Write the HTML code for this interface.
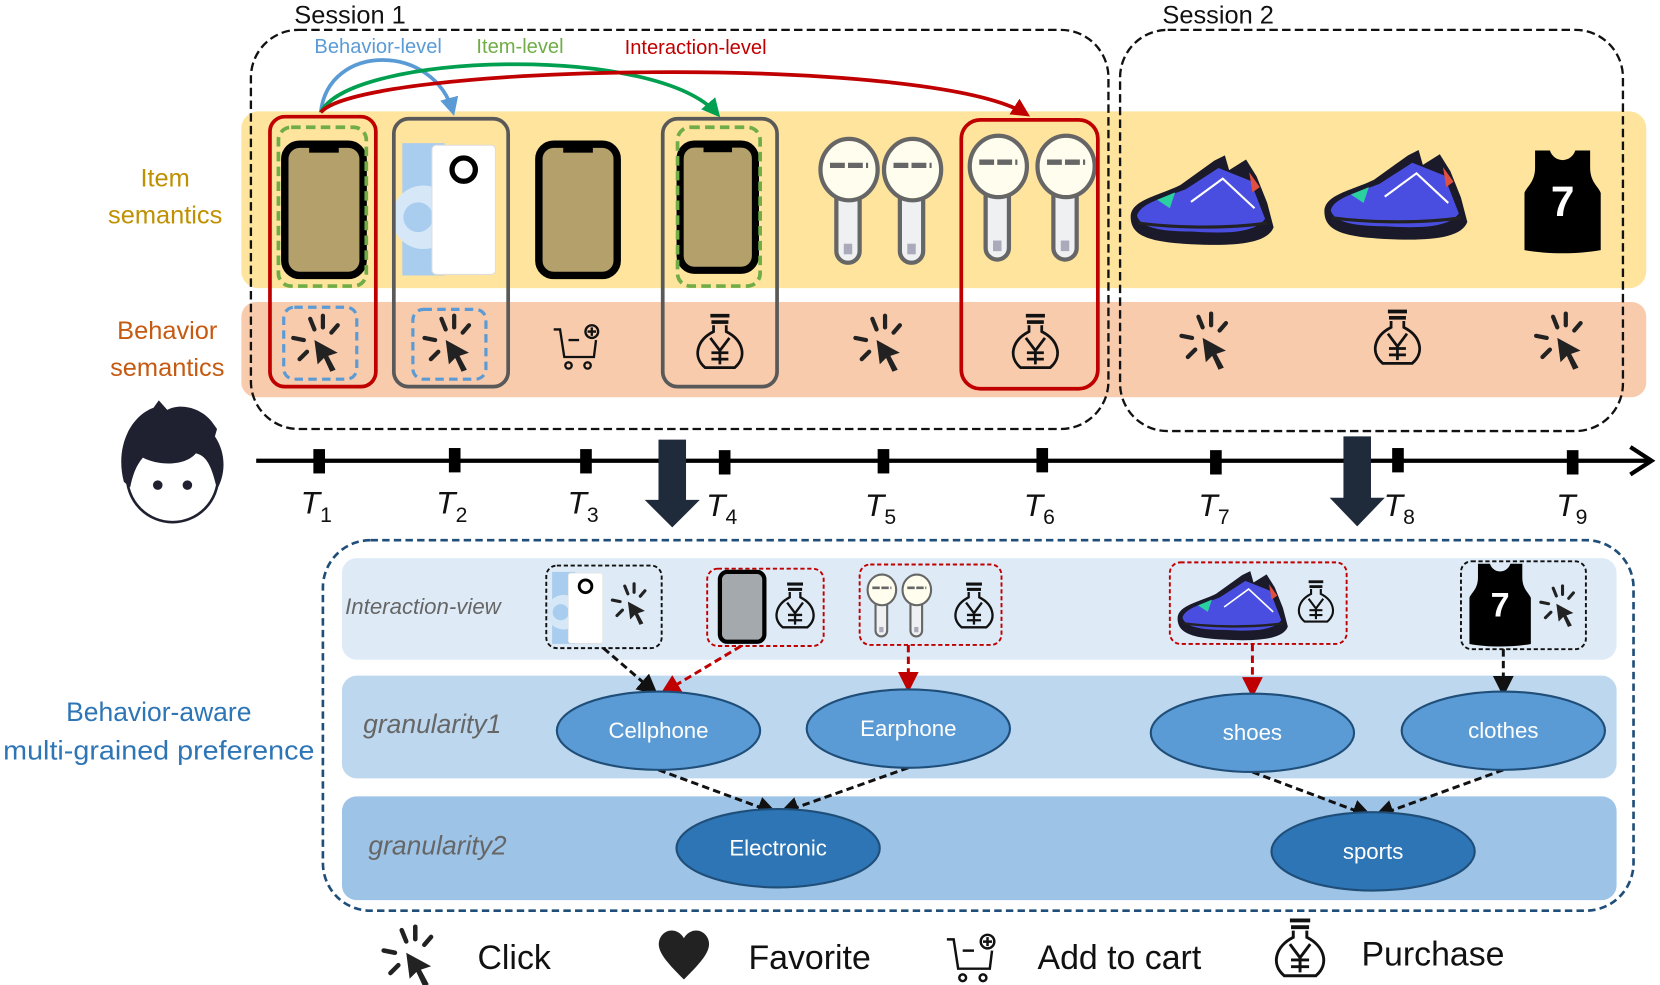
<!DOCTYPE html>
<html><head><meta charset="utf-8"><style>
html,body{margin:0;padding:0;background:#fff;}
svg{display:block;}
text{font-family:"Liberation Sans",sans-serif;}
</style></head><body>
<svg width="1660" height="985" viewBox="0 0 1568 930" xmlns="http://www.w3.org/2000/svg">
<defs>
<symbol id="click" viewBox="-30 -30 60 60" overflow="visible">
 <g stroke="#222" stroke-width="4" stroke-linecap="round">
  <line x1="-8" y1="-24" x2="-4" y2="-14"/><line x1="4" y1="-27" x2="4" y2="-16"/>
  <line x1="18" y1="-18" x2="12" y2="-11"/><line x1="-24" y1="-6" x2="-14" y2="-4"/>
  <line x1="-18" y1="14" x2="-11" y2="7"/>
 </g>
 <path d="M-4,-4 L18,8 L9,11 L16,24 L11,26 L5,13 L-1,19 Z" fill="#222"/>
</symbol>
<symbol id="buy" viewBox="-30 -30 60 60" overflow="visible">
 <g fill="none" stroke="#111" stroke-width="2.6">
  <line x1="-9" y1="-27" x2="9" y2="-27" stroke-width="3.5"/>
  <line x1="-8" y1="-21" x2="8" y2="-21" stroke-width="3.5"/>
  <path d="M-6,-18 L-6,-12 C-22,-4 -26,12 -14,22 L14,22 C26,12 22,-4 6,-12 L6,-18"/>
  <path d="M-9,-6 L0,6 L9,-6 M0,6 L0,19 M-8,8 L8,8 M-8,14 L8,14"/>
 </g>
</symbol>
<symbol id="cart" viewBox="-30 -30 60 60" overflow="visible">
 <g fill="none" stroke="#111" stroke-width="2.2">
  <path d="M-24,-14 L-18,-14 L-14,12 L14,12 L16,-4"/>
  <line x1="-10" y1="-4" x2="0" y2="-4"/>
  <circle cx="12" cy="-12" r="6"/><path d="M12,-16 V-8 M8,-12 H16"/>
  <circle cx="-10" cy="20" r="3"/><circle cx="8" cy="20" r="3"/>
 </g>
</symbol>
<symbol id="phone" viewBox="0 0 80 130" overflow="visible">
 <rect x="3" y="3" width="74" height="124" rx="14" fill="#b3a06a" stroke="#000" stroke-width="7"/>
 <rect x="26" y="3" width="28" height="8" fill="#000"/>
</symbol>
<symbol id="huawei" viewBox="0 0 90 125" overflow="visible">
 <rect x="0" y="0" width="40" height="125" fill="#a9cdee"/>
 <circle cx="20" cy="70" r="30" fill="#d6e8f7"/><circle cx="15" cy="70" r="14" fill="#a9cdee"/>
 <rect x="28" y="2" width="60" height="122" rx="4" fill="#fff" stroke="#ddd"/>
 <circle cx="58" cy="25" r="11" fill="none" stroke="#000" stroke-width="5"/>
</symbol>
<symbol id="bud" viewBox="0 0 60 120" overflow="visible">
 <g stroke="#666" stroke-width="4">
  <rect x="18" y="40" width="22" height="78" rx="11" fill="#eef0f2"/>
  <ellipse cx="30" cy="30" rx="27" ry="29" fill="#fffdee"/>
 </g>
 <line x1="12" y1="26" x2="48" y2="26" stroke="#666" stroke-width="5" stroke-dasharray="14 3"/>
 <rect x="25" y="100" width="8" height="10" fill="#aab"/>
</symbol>
<symbol id="shoe" viewBox="0 0 140 85" overflow="visible">
 <path d="M3,58 C3,42 30,38 50,28 L82,5 L92,0 L96,14 L112,4 L122,20 L132,45 L138,68 C132,84 100,86 60,84 C20,82 3,76 3,58 Z" fill="#1a1a2a"/>
 <path d="M9,57 C12,45 35,40 55,32 L86,12 L116,24 L130,60 C120,74 90,74 60,72 C30,72 12,68 9,57Z" fill="#4a4ee0"/>
 <path d="M28,42 L45,35 L40,50 Z" fill="#2ad0a0"/>
 <path d="M115,16 L125,30 L118,35Z" fill="#e05040"/>
 <path d="M10,64 C40,68 90,70 132,64" stroke="#222" stroke-width="3" fill="none"/>
 <path d="M60,44 L90,22 L120,50" stroke="#fff" stroke-width="2" fill="none"/>
</symbol>
<symbol id="jersey" viewBox="0 0 72 96" overflow="visible">
 <path d="M10,0 L24,0 C28,12 44,12 48,0 L62,0 L62,16 C62,30 70,34 72,40 L72,94 C50,98 22,98 0,94 L0,40 C2,34 10,30 10,16 Z" fill="#000"/>
 <text x="36" y="62" text-anchor="middle" font-size="40" font-weight="bold" fill="#fff">7</text>
</symbol>
<marker id="ab" viewBox="0 0 10 10" refX="9" refY="5" markerWidth="7" markerHeight="7" orient="auto"><path d="M0,0L10,5L0,10z" fill="#111"/></marker>
<marker id="ar" viewBox="0 0 10 10" refX="9" refY="5" markerWidth="7" markerHeight="7" orient="auto"><path d="M0,0L10,5L0,10z" fill="#c00000"/></marker>
<marker id="mb" viewBox="0 0 10 10" refX="8" refY="5" markerWidth="5" markerHeight="5" orient="auto"><path d="M0,0L10,5L0,10z" fill="#5b9bd5"/></marker>
<marker id="mg" viewBox="0 0 10 10" refX="8" refY="5" markerWidth="5" markerHeight="5" orient="auto"><path d="M0,0L10,5L0,10z" fill="#00a050"/></marker>
<marker id="mr" viewBox="0 0 10 10" refX="8" refY="5" markerWidth="5" markerHeight="5" orient="auto"><path d="M0,0L10,5L0,10z" fill="#c00000"/></marker>
</defs>

<rect x="228" y="105" width="1327" height="167" rx="16" fill="#fee49c"/>
<rect x="228" y="285" width="1327" height="90" rx="14" fill="#f8cbad"/>

<text x="156" y="176" font-size="24" fill="#bf9000" text-anchor="middle">Item</text>
<text x="156" y="211" font-size="24" fill="#bf9000" text-anchor="middle">semantics</text>
<text x="158" y="320" font-size="24" fill="#c55a11" text-anchor="middle">Behavior</text>
<text x="158" y="355" font-size="24" fill="#c55a11" text-anchor="middle">semantics</text>

<rect x="237" y="28" width="810" height="377" rx="45" fill="none" stroke="#111" stroke-width="2.2" stroke-dasharray="8 4"/>
<rect x="1058" y="28" width="475" height="379" rx="45" fill="none" stroke="#111" stroke-width="2.2" stroke-dasharray="8 4"/>
<text x="278" y="22" font-size="24" fill="#111">Session 1</text>
<text x="1098" y="22" font-size="24" fill="#111">Session 2</text>

<use href="#phone" x="266" y="133" width="80" height="130"/>
<use href="#huawei" x="380" y="135" width="90" height="125"/>
<use href="#phone" x="506" y="133" width="80" height="130"/>
<use href="#phone" x="638" y="133" width="80" height="125"/>
<use href="#bud" x="772" y="130" width="60" height="120"/>
<use href="#bud" x="832" y="130" width="60" height="120"/>
<use href="#bud" x="913" y="127" width="60" height="120"/>
<use href="#bud" x="977" y="127" width="60" height="120"/>
<use href="#shoe" x="1065" y="145" width="140" height="88"/>
<use href="#shoe" x="1248" y="140" width="140" height="88"/>
<use href="#jersey" x="1440" y="142" width="72" height="96"/>

<use href="#click" x="271" y="295" width="60" height="60"/>
<use href="#click" x="395" y="295" width="60" height="60"/>
<use href="#cart" x="517" y="295" width="60" height="60"/>
<use href="#buy" x="650" y="295" width="60" height="60"/>
<use href="#click" x="802" y="295" width="60" height="60"/>
<use href="#buy" x="948" y="295" width="60" height="60"/>
<use href="#click" x="1110" y="293" width="60" height="60"/>
<use href="#buy" x="1290" y="291" width="60" height="60"/>
<use href="#click" x="1445" y="293" width="60" height="60"/>

<rect x="255" y="110" width="100" height="255" rx="14" fill="none" stroke="#c00000" stroke-width="3.5"/>
<rect x="263" y="120" width="83" height="150" rx="12" fill="none" stroke="#70ad47" stroke-width="3.5" stroke-dasharray="9 5"/>
<rect x="268" y="290" width="69" height="68" rx="10" fill="none" stroke="#5b9bd5" stroke-width="3" stroke-dasharray="8 5"/>
<rect x="372" y="112" width="108" height="253" rx="14" fill="none" stroke="#595959" stroke-width="3.5"/>
<rect x="390" y="292" width="69" height="66" rx="10" fill="none" stroke="#5b9bd5" stroke-width="3" stroke-dasharray="8 5"/>
<rect x="626" y="112" width="108" height="253" rx="14" fill="none" stroke="#595959" stroke-width="3.5"/>
<rect x="640" y="120" width="78" height="150" rx="12" fill="none" stroke="#70ad47" stroke-width="3.5" stroke-dasharray="9 5"/>
<rect x="908" y="113" width="129" height="254" rx="18" fill="none" stroke="#c00000" stroke-width="3.5"/>

<path d="M303,106 C310,40 410,40 428,106" fill="none" stroke="#5b9bd5" stroke-width="3.5" marker-end="url(#mb)"/>
<path d="M303,106 C330,50 620,40 678,108" fill="none" stroke="#00a050" stroke-width="3.5" marker-end="url(#mg)"/>
<path d="M303,106 C340,60 880,50 970,108" fill="none" stroke="#c00000" stroke-width="3.5" marker-end="url(#mr)"/>
<text x="297" y="50" font-size="19" fill="#5b9bd5">Behavior-level</text>
<text x="450" y="50" font-size="19" fill="#70ad47">Item-level</text>
<text x="590" y="51" font-size="19" fill="#c00000">Interaction-level</text>

<line x1="242" y1="435" x2="1558" y2="435" stroke="#000" stroke-width="4"/>
<path d="M1540,422 L1560,435 L1540,448" fill="none" stroke="#000" stroke-width="4"/>
<g fill="#000">
<rect x="296" y="424" width="11" height="23"/><rect x="424" y="423" width="11" height="23"/>
<rect x="548" y="424" width="11" height="23"/><rect x="679" y="425" width="11" height="23"/>
<rect x="829" y="424" width="11" height="23"/><rect x="979" y="423" width="11" height="23"/>
<rect x="1143" y="425" width="11" height="23"/><rect x="1315" y="423" width="11" height="23"/>
<rect x="1480" y="425" width="11" height="23"/>
</g>
<g font-family="Liberation Serif,serif" font-style="italic" font-size="30" fill="#111">
<text x="284" y="485">T<tspan font-size="20" dy="8" font-style="normal">1</tspan></text>
<text x="412" y="485">T<tspan font-size="20" dy="8" font-style="normal">2</tspan></text>
<text x="536" y="485">T<tspan font-size="20" dy="8" font-style="normal">3</tspan></text>
<text x="667" y="487">T<tspan font-size="20" dy="8" font-style="normal">4</tspan></text>
<text x="817" y="487">T<tspan font-size="20" dy="8" font-style="normal">5</tspan></text>
<text x="967" y="487">T<tspan font-size="20" dy="8" font-style="normal">6</tspan></text>
<text x="1132" y="487">T<tspan font-size="20" dy="8" font-style="normal">7</tspan></text>
<text x="1307" y="487">T<tspan font-size="20" dy="8" font-style="normal">8</tspan></text>
<text x="1470" y="487">T<tspan font-size="20" dy="8" font-style="normal">9</tspan></text>
</g>
<path d="M622,415 H648 V472 H661 L635,498 L609,472 H622 Z" fill="#1f2a3a"/>
<path d="M1269,412 H1295 V470 H1308 L1282,497 L1256,470 H1269 Z" fill="#1f2a3a"/>

<circle cx="163" cy="450" r="43" fill="#fff" stroke="#1f2130" stroke-width="2.5"/>
<path d="M117,455 C108,420 125,392 145,385 L150,378 L158,387 C170,380 190,385 200,398 L205,405 L203,412 C215,430 212,450 205,462 C200,440 195,430 185,428 C175,440 150,440 135,432 C128,440 125,450 123,460 Z" fill="#1f2130"/>
<circle cx="149" cy="458" r="4.5" fill="#1f2130"/><circle cx="177" cy="458" r="4.5" fill="#1f2130"/>

<rect x="323" y="527" width="1204" height="96" rx="14" fill="#deebf7"/>
<rect x="323" y="638" width="1204" height="97" rx="14" fill="#bdd7ee"/>
<rect x="323" y="752" width="1204" height="98" rx="14" fill="#9dc3e6"/>
<rect x="305" y="510" width="1238" height="350" rx="45" fill="none" stroke="#1f4e79" stroke-width="2.5" stroke-dasharray="7 4"/>
<text x="150" y="681" font-size="25" fill="#2e75b6" text-anchor="middle">Behavior-aware</text>
<text x="150" y="717" font-size="25" fill="#2e75b6" text-anchor="middle" textLength="294" lengthAdjust="spacingAndGlyphs">multi-grained preference</text>
<text x="326" y="580" font-size="21" font-style="italic" fill="#666">Interaction-view</text>
<text x="343" y="692" font-size="25" font-style="italic" fill="#666">granularity1</text>
<text x="348" y="807" font-size="25" font-style="italic" fill="#666">granularity2</text>

<use href="#huawei" x="521" y="540" width="50" height="68"/>
<use href="#click" x="574" y="549" width="44" height="44"/>
<rect x="680" y="540" width="42" height="66" rx="7" fill="#a4a9ae" stroke="#000" stroke-width="4"/>
<use href="#buy" x="726" y="549" width="50" height="50"/>
<use href="#bud" x="818" y="537" width="30" height="70"/>
<use href="#bud" x="851" y="537" width="30" height="70"/>
<use href="#buy" x="895" y="549" width="50" height="50"/>
<use href="#shoe" x="1110" y="538" width="108" height="68"/>
<use href="#buy" x="1220" y="547" width="46" height="46"/>
<use href="#jersey" x="1388" y="532" width="58" height="78"/>
<use href="#click" x="1451" y="551" width="44" height="44"/>
<rect x="516" y="534" width="109" height="78" rx="10" fill="none" stroke="#111" stroke-width="1.8" stroke-dasharray="4 2.5"/>
<rect x="668" y="537" width="110" height="73" rx="10" fill="none" stroke="#c00000" stroke-width="1.8" stroke-dasharray="4 2.5"/>
<rect x="812" y="533" width="134" height="76" rx="10" fill="none" stroke="#c00000" stroke-width="1.8" stroke-dasharray="4 2.5"/>
<rect x="1105" y="531" width="167" height="77" rx="10" fill="none" stroke="#c00000" stroke-width="1.8" stroke-dasharray="4 2.5"/>
<rect x="1380" y="530" width="118" height="83" rx="10" fill="none" stroke="#111" stroke-width="1.8" stroke-dasharray="4 2.5"/>

<g stroke-width="2.8" stroke-dasharray="7 4" fill="none">
<line x1="570" y1="612" x2="620" y2="655" stroke="#111" marker-end="url(#ab)"/>
<line x1="700" y1="610" x2="625" y2="655" stroke="#c00000" marker-end="url(#ar)"/>
<line x1="858" y1="609" x2="858" y2="652" stroke="#c00000" marker-end="url(#ar)"/>
<line x1="1183" y1="608" x2="1183" y2="657" stroke="#c00000" marker-end="url(#ar)"/>
<line x1="1420" y1="613" x2="1420" y2="656" stroke="#111" marker-end="url(#ab)"/>
<line x1="622" y1="727" x2="733" y2="768" stroke="#111" marker-end="url(#ab)"/>
<line x1="858" y1="725" x2="737" y2="768" stroke="#111" marker-end="url(#ab)"/>
<line x1="1183" y1="729" x2="1295" y2="771" stroke="#111" marker-end="url(#ab)"/>
<line x1="1420" y1="727" x2="1299" y2="771" stroke="#111" marker-end="url(#ab)"/>
</g>

<g stroke="#1f4e79" stroke-width="2">
<ellipse cx="622" cy="690" rx="96" ry="37" fill="#5b9bd5"/>
<ellipse cx="858" cy="688" rx="96" ry="37" fill="#5b9bd5"/>
<ellipse cx="1183" cy="692" rx="96" ry="37" fill="#5b9bd5"/>
<ellipse cx="1420" cy="690" rx="96" ry="37" fill="#5b9bd5"/>
<ellipse cx="735" cy="801" rx="96" ry="37" fill="#2e75b6"/>
<ellipse cx="1297" cy="804" rx="96" ry="37" fill="#2e75b6"/>
</g>
<g font-size="21" fill="#fff" text-anchor="middle">
<text x="622" y="697">Cellphone</text><text x="858" y="695">Earphone</text>
<text x="1183" y="699">shoes</text><text x="1420" y="697">clothes</text>
<text x="735" y="808">Electronic</text><text x="1297" y="811">sports</text>
</g>

<use href="#click" x="356" y="872" width="64" height="64"/>
<text x="451" y="915" font-size="32" fill="#111">Click</text>
<path d="M646,925 C628,907 618,896 624,885 C630,875 642,878 646,886 C650,878 662,875 668,885 C674,896 664,907 646,925 Z" fill="#222"/>
<text x="707" y="915" font-size="32" fill="#111">Favorite</text>
<use href="#cart" x="888" y="870" width="64" height="64"/>
<text x="980" y="915" font-size="32" fill="#111">Add to cart</text>
<use href="#buy" x="1196" y="866" width="64" height="64"/>
<text x="1286" y="912" font-size="32" fill="#111">Purchase</text>
</svg>
</body></html>
